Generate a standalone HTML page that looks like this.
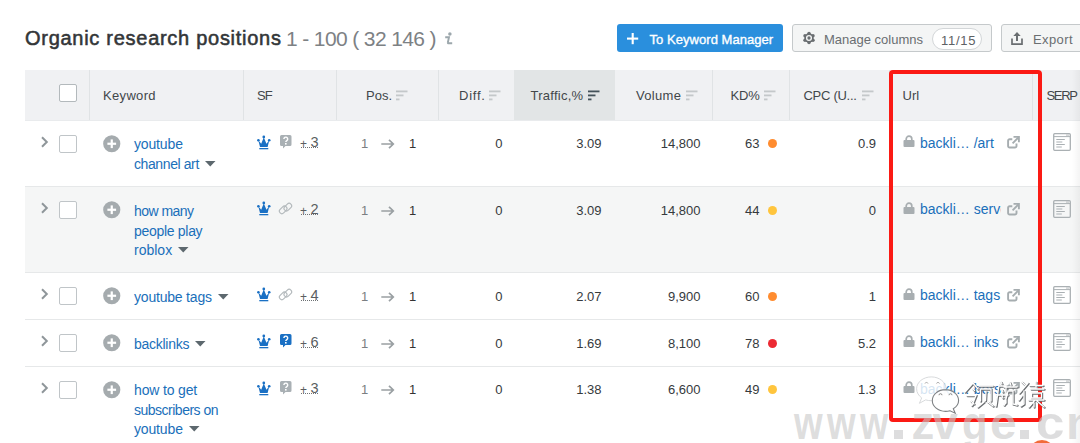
<!DOCTYPE html><html><head><meta charset="utf-8"><style>
*{margin:0;padding:0;box-sizing:border-box}
html,body{width:1080px;height:443px;overflow:hidden;background:#fff;font-family:"Liberation Sans", sans-serif}
body{position:relative}
.a{position:absolute;white-space:nowrap}
.hd{font-size:13px;color:#42474a;line-height:20px}
.num{font-size:13px;color:#363a3d;line-height:20px;text-align:right}
.kw{font-size:14px;color:#1a6fba;line-height:20px}
</style></head><body>
<div class="a" style="left:25px;top:26px;font-size:20px;color:#333638;line-height:24px;letter-spacing:0.72px;-webkit-text-stroke:0.55px #333638">Organic research positions</div>
<div class="a" style="left:286px;top:26.5px;font-size:21px;color:#7d8184;line-height:24px;letter-spacing:-0.62px">1 - 100 ( 32 146 )</div>
<svg class="a" style="left:444px;top:32px" width="10" height="13" viewBox="0 0 10 13"><circle cx="5.9" cy="2" r="1.75" fill="#9ca7ac"/><path d="M1.2 5.3H5L3.9 10.3Q3.6 11.3 4.7 11.3H8.2" fill="none" stroke="#9ca7ac" stroke-width="1.9"/></svg>
<div class="a" style="left:617px;top:24px;width:166px;height:28px;background:#2a8fdd;border-radius:3px"></div>
<svg class="a" style="left:627px;top:33px" width="12" height="12" viewBox="0 0 12 12"><rect x="4.65" y="0" width="2.1" height="11.2" fill="#fff"/><rect x="0" y="4.55" width="11.2" height="2.1" fill="#fff"/></svg>
<div class="a" style="left:649.5px;top:32px;font-size:13px;color:#fff;line-height:15px;-webkit-text-stroke:0.35px #fff;letter-spacing:0.05px">To Keyword Manager</div>
<div class="a" style="left:792px;top:24px;width:200px;height:28px;background:#f4f5f5;border:1px solid #c5c9cb;border-radius:3px"></div>
<svg class="a" style="left:802px;top:31px" width="14" height="14" viewBox="-7 -7 14 14"><g fill="#6a6e71"><circle r="4.7"/><circle cx="0" cy="-4.6" r="1.75"/><circle cx="0" cy="4.6" r="1.75"/><circle cx="3.98" cy="-2.3" r="1.75"/><circle cx="-3.98" cy="-2.3" r="1.75"/><circle cx="3.98" cy="2.3" r="1.75"/><circle cx="-3.98" cy="2.3" r="1.75"/></g><circle r="2.35" fill="none" stroke="#f4f5f5" stroke-width="1.4"/></svg>
<div class="a" style="left:824px;top:32px;font-size:13px;color:#6a6e71;line-height:15px">Manage columns</div>
<div class="a" style="left:932px;top:28px;width:50px;height:22px;background:#fff;border:1px solid #d3d6d8;border-radius:11px"></div>
<div class="a" style="left:941px;top:32.5px;font-size:13px;color:#5d6164;line-height:15px;letter-spacing:0.7px">11/15</div>
<div class="a" style="left:1001px;top:24px;width:100px;height:28px;background:#f4f5f5;border:1px solid #c5c9cb;border-radius:3px"></div>
<svg class="a" style="left:1011px;top:32px" width="12" height="13" viewBox="0 0 12 13"><path d="M6 0L2.3 4h2.7v5h2V4h2.7z" fill="#6a6e71"/><path d="M1 6.5v5.6h10V6.5" fill="none" stroke="#6a6e71" stroke-width="1.7"/></svg>
<div class="a" style="left:1033px;top:32px;font-size:13px;color:#6a6e71;line-height:15px;letter-spacing:0.4px">Export</div>
<div class="a" style="left:25px;top:70px;width:1055px;height:51px;background:#f0f1f3;border-bottom:1px solid #e9ebed"></div>
<div class="a" style="left:514px;top:70px;width:101px;height:50px;background:#e2e5e6"></div>
<div class="a" style="left:89px;top:70px;width:1px;height:50px;background:#e0e3e5"></div>
<div class="a" style="left:243px;top:70px;width:1px;height:50px;background:#e0e3e5"></div>
<div class="a" style="left:336px;top:70px;width:1px;height:50px;background:#e0e3e5"></div>
<div class="a" style="left:438px;top:70px;width:1px;height:50px;background:#e0e3e5"></div>
<div class="a" style="left:712px;top:70px;width:1px;height:50px;background:#e0e3e5"></div>
<div class="a" style="left:789px;top:70px;width:1px;height:50px;background:#e0e3e5"></div>
<div class="a" style="left:889px;top:70px;width:1px;height:50px;background:#e0e3e5"></div>
<div class="a" style="left:1032px;top:70px;width:1px;height:50px;background:#e0e3e5"></div>
<div class="a" style="left:59px;top:84px;width:18px;height:18px;background:#fff;border:1px solid #b3b9bc;border-radius:2px"></div>
<div class="a hd" style="left:103px;top:86px;letter-spacing:0.33px">Keyword</div>
<div class="a hd" style="left:257px;top:86px;letter-spacing:-0.9px">SF</div>
<div class="a hd" style="left:366px;top:86px;letter-spacing:0px">Pos.</div>
<svg class="a" style="left:396px;top:90px" width="12" height="11" viewBox="0 0 12 11"><rect x="0" y="0.5" width="11.5" height="1.8" fill="#c4c8ca"/><rect x="0" y="4.5" width="7.5" height="1.8" fill="#c4c8ca"/><rect x="0" y="8.5" width="3.5" height="1.8" fill="#c4c8ca"/></svg>
<div class="a hd" style="left:459px;top:86px;letter-spacing:0.75px">Diff.</div>
<svg class="a" style="left:489px;top:90px" width="12" height="11" viewBox="0 0 12 11"><rect x="0" y="0.5" width="11.5" height="1.8" fill="#c4c8ca"/><rect x="0" y="4.5" width="7.5" height="1.8" fill="#c4c8ca"/><rect x="0" y="8.5" width="3.5" height="1.8" fill="#c4c8ca"/></svg>
<div class="a hd" style="left:530.5px;top:86px;letter-spacing:0.25px">Traffic,%</div>
<svg class="a" style="left:588px;top:90px" width="12" height="11" viewBox="0 0 12 11"><rect x="0" y="0.5" width="11.5" height="1.8" fill="#44525a"/><rect x="0" y="4.5" width="7.5" height="1.8" fill="#44525a"/><rect x="0" y="8.5" width="3.5" height="1.8" fill="#44525a"/></svg>
<div class="a hd" style="left:636px;top:86px;letter-spacing:0.3px">Volume</div>
<svg class="a" style="left:686px;top:90px" width="12" height="11" viewBox="0 0 12 11"><rect x="0" y="0.5" width="11.5" height="1.8" fill="#c4c8ca"/><rect x="0" y="4.5" width="7.5" height="1.8" fill="#c4c8ca"/><rect x="0" y="8.5" width="3.5" height="1.8" fill="#c4c8ca"/></svg>
<div class="a hd" style="left:730.5px;top:86px;letter-spacing:-0.2px">KD%</div>
<svg class="a" style="left:764px;top:90px" width="12" height="11" viewBox="0 0 12 11"><rect x="0" y="0.5" width="11.5" height="1.8" fill="#c4c8ca"/><rect x="0" y="4.5" width="7.5" height="1.8" fill="#c4c8ca"/><rect x="0" y="8.5" width="3.5" height="1.8" fill="#c4c8ca"/></svg>
<div class="a hd" style="left:803.5px;top:86px;letter-spacing:-0.28px">CPC (U...</div>
<svg class="a" style="left:862px;top:90px" width="12" height="11" viewBox="0 0 12 11"><rect x="0" y="0.5" width="11.5" height="1.8" fill="#c4c8ca"/><rect x="0" y="4.5" width="7.5" height="1.8" fill="#c4c8ca"/><rect x="0" y="8.5" width="3.5" height="1.8" fill="#c4c8ca"/></svg>
<div class="a hd" style="left:902.5px;top:86px;letter-spacing:0px">Url</div>
<div class="a hd" style="left:1046.5px;top:86px;letter-spacing:-1.3px">SERP</div>
<div class="a" style="left:25px;top:121px;width:1055px;height:66px;background:#fff;border-bottom:1px solid #e6e8e9"></div>
<svg class="a" style="left:40px;top:136px" width="9" height="12" viewBox="0 0 9 12"><path d="M2 1.3l4.8 4.7L2 10.7" fill="none" stroke="#8f969a" stroke-width="2"/></svg>
<div class="a" style="left:59px;top:135px;width:18px;height:18px;background:#fff;border:1px solid #c0c5c8;border-radius:2px"></div>
<svg class="a" style="left:103px;top:135px" width="18" height="18" viewBox="0 0 18 18"><circle cx="8.75" cy="8.75" r="8.6" fill="#a5abae"/><rect x="7.65" y="4.4" width="2.2" height="8.7" fill="#fff"/><rect x="4.4" y="7.65" width="8.7" height="2.2" fill="#fff"/></svg>
<div class="a kw" style="left:134px;top:134px"><span style="letter-spacing:-0.15px">youtube</span></div>
<div class="a kw" style="left:134px;top:154px"><span style="letter-spacing:-0.4px">channel art</span><svg style="display:inline-block;margin-left:6px;vertical-align:2px" width="11" height="6" viewBox="0 0 11 6"><path d="M0 0h10.5L5.25 5.5z" fill="#5d686e"/></svg></div>
<svg class="a" style="left:257px;top:135px" width="14" height="15" viewBox="0 0 14 15"><path d="M1.3 5.2L3 11.9h7.6l1.7-6.7-2.9 3.5L6.8 2.3 4.2 8.7z" fill="#1a70c4"/><circle cx="1.4" cy="5.3" r="1.3" fill="#1a70c4"/><circle cx="6.8" cy="1.9" r="1.35" fill="#1a70c4"/><circle cx="12.2" cy="5.3" r="1.3" fill="#1a70c4"/><rect x="2.3" y="13" width="9" height="1.3" fill="#1a70c4"/></svg>
<svg class="a" style="left:280px;top:135px" width="12" height="14" viewBox="0 0 12 14"><path d="M1.5 0h8.5A1.5 1.5 0 0 1 11.5 1.5v8A1.5 1.5 0 0 1 10 11H5.5l-2.5 2.6V11H1.5A1.5 1.5 0 0 1 0 9.5v-8A1.5 1.5 0 0 1 1.5 0z" fill="#a9b0b4"/><path d="M3.9 4.1a1.9 1.9 0 1 1 2.9 1.6c-.6.4-1 .7-1 1.4" fill="none" stroke="#fff" stroke-width="1.4"/><rect x="5" y="8" width="1.6" height="1.6" fill="#fff"/></svg>
<div class="a" style="left:300px;top:134px;font-size:12px;color:#5a5e61;line-height:20px">+</div>
<div class="a" style="left:310.5px;top:132px;font-size:14.5px;color:#5a5e61;line-height:20px">3</div>
<div class="a" style="left:301px;top:147px;width:17px;height:1px;border-top:1px dotted #6e7275"></div>
<div class="a" style="left:361px;top:134px;font-size:13px;color:#7b7f82;line-height:20px">1</div>
<svg class="a" style="left:381px;top:139px" width="14" height="10" viewBox="0 0 14 10"><path d="M0.3 5h12M8 0.8l4.3 4.2L8 9.2" fill="none" stroke="#9aa0a3" stroke-width="1.7"/></svg>
<div class="a" style="left:409px;top:134px;font-size:13px;color:#333;line-height:20px">1</div>
<div class="a num" style="left:438px;width:64.5px;top:134px">0</div>
<div class="a num" style="left:514px;width:87.5px;top:134px">3.09</div>
<div class="a num" style="left:615px;width:85.5px;top:134px">14,800</div>
<div class="a num" style="left:712px;width:47.5px;top:134px">63</div>
<div class="a" style="left:768px;top:139px;width:9px;height:9px;border-radius:50%;background:#ff8c2f"></div>
<div class="a num" style="left:789px;width:87px;top:134px">0.9</div>
<svg class="a" style="left:903px;top:135px" width="12" height="12" viewBox="0 0 12 12"><path d="M3.2 5.5V4a2.8 2.8 0 0 1 5.6 0v1.5" fill="none" stroke="#a8aeb1" stroke-width="1.7"/><rect x="0.5" y="5" width="11" height="7" rx="1" fill="#a8aeb1"/></svg>
<div class="a kw" style="left:920px;top:133px;width:81px;overflow:hidden;letter-spacing:0px">backli… /art</div>
<svg class="a" style="left:1007px;top:135px" width="14" height="14" viewBox="0 0 14 14"><path d="M5.3 4.3H2.6A1.5 1.5 0 0 0 1.1 5.8V11A1.5 1.5 0 0 0 2.6 12.5H8A1.5 1.5 0 0 0 9.5 11V8.6" fill="none" stroke="#a6adb0" stroke-width="1.9"/><path d="M6.5 1.9H11.9V7.2" fill="none" stroke="#a6adb0" stroke-width="1.9"/><path d="M5.6 8.3L11.4 2.5" stroke="#a6adb0" stroke-width="1.9"/></svg>
<svg class="a" style="left:1053px;top:133px" width="18" height="18" viewBox="0 0 18 18"><rect x="0.7" y="0.7" width="16.6" height="16.6" rx="1" fill="none" stroke="#aab0b3" stroke-width="1.3"/><path d="M1 3.6h16" stroke="#aab0b3" stroke-width="1"/><path d="M13 2.1h3" stroke="#aab0b3" stroke-width="0.8"/><path d="M3.3 6.5h8.5M3.3 9h6M3.3 11.5h8.5M3.3 14h5.5" stroke="#aab0b3" stroke-width="1.1"/></svg>
<div class="a" style="left:25px;top:187px;width:1055px;height:86px;background:#f5f6f6;border-bottom:1px solid #e6e8e9"></div>
<svg class="a" style="left:40px;top:202px" width="9" height="12" viewBox="0 0 9 12"><path d="M2 1.3l4.8 4.7L2 10.7" fill="none" stroke="#8f969a" stroke-width="2"/></svg>
<div class="a" style="left:59px;top:201px;width:18px;height:18px;background:#fff;border:1px solid #c0c5c8;border-radius:2px"></div>
<svg class="a" style="left:103px;top:201px" width="18" height="18" viewBox="0 0 18 18"><circle cx="8.75" cy="8.75" r="8.6" fill="#a5abae"/><rect x="7.65" y="4.4" width="2.2" height="8.7" fill="#fff"/><rect x="4.4" y="7.65" width="8.7" height="2.2" fill="#fff"/></svg>
<div class="a kw" style="left:134px;top:201px"><span style="letter-spacing:-0.54px">how many</span></div>
<div class="a kw" style="left:134px;top:221px"><span style="letter-spacing:-0.3px">people play</span></div>
<div class="a kw" style="left:134px;top:240px"><span style="letter-spacing:0px">roblox</span><svg style="display:inline-block;margin-left:6px;vertical-align:2px" width="11" height="6" viewBox="0 0 11 6"><path d="M0 0h10.5L5.25 5.5z" fill="#5d686e"/></svg></div>
<svg class="a" style="left:257px;top:201px" width="14" height="15" viewBox="0 0 14 15"><path d="M1.3 5.2L3 11.9h7.6l1.7-6.7-2.9 3.5L6.8 2.3 4.2 8.7z" fill="#1a70c4"/><circle cx="1.4" cy="5.3" r="1.3" fill="#1a70c4"/><circle cx="6.8" cy="1.9" r="1.35" fill="#1a70c4"/><circle cx="12.2" cy="5.3" r="1.3" fill="#1a70c4"/><rect x="2.3" y="13" width="9" height="1.3" fill="#1a70c4"/></svg>
<svg class="a" style="left:278px;top:201px" width="15" height="15" viewBox="0 0 15 15"><g fill="none" stroke="#b3b9bc" stroke-width="1.15" transform="rotate(-45 7.5 7.5)"><rect x="0.6" y="4.3" width="8.6" height="5" rx="2.5"/><rect x="5.8" y="5.7" width="8.6" height="5" rx="2.5"/></g></svg>
<div class="a" style="left:300px;top:201px;font-size:12px;color:#5a5e61;line-height:20px">+</div>
<div class="a" style="left:310.5px;top:199px;font-size:14.5px;color:#5a5e61;line-height:20px">2</div>
<div class="a" style="left:301px;top:214px;width:17px;height:1px;border-top:1px dotted #6e7275"></div>
<div class="a" style="left:361px;top:201px;font-size:13px;color:#7b7f82;line-height:20px">1</div>
<svg class="a" style="left:381px;top:206px" width="14" height="10" viewBox="0 0 14 10"><path d="M0.3 5h12M8 0.8l4.3 4.2L8 9.2" fill="none" stroke="#9aa0a3" stroke-width="1.7"/></svg>
<div class="a" style="left:409px;top:201px;font-size:13px;color:#333;line-height:20px">1</div>
<div class="a num" style="left:438px;width:64.5px;top:201px">0</div>
<div class="a num" style="left:514px;width:87.5px;top:201px">3.09</div>
<div class="a num" style="left:615px;width:85.5px;top:201px">14,800</div>
<div class="a num" style="left:712px;width:47.5px;top:201px">44</div>
<div class="a" style="left:768px;top:206px;width:9px;height:9px;border-radius:50%;background:#ffc53d"></div>
<div class="a num" style="left:789px;width:87px;top:201px">0</div>
<svg class="a" style="left:903px;top:202px" width="12" height="12" viewBox="0 0 12 12"><path d="M3.2 5.5V4a2.8 2.8 0 0 1 5.6 0v1.5" fill="none" stroke="#a8aeb1" stroke-width="1.7"/><rect x="0.5" y="5" width="11" height="7" rx="1" fill="#a8aeb1"/></svg>
<div class="a kw" style="left:920px;top:199px;width:81px;overflow:hidden;letter-spacing:0px">backli… serve</div>
<svg class="a" style="left:1007px;top:202px" width="14" height="14" viewBox="0 0 14 14"><path d="M5.3 4.3H2.6A1.5 1.5 0 0 0 1.1 5.8V11A1.5 1.5 0 0 0 2.6 12.5H8A1.5 1.5 0 0 0 9.5 11V8.6" fill="none" stroke="#a6adb0" stroke-width="1.9"/><path d="M6.5 1.9H11.9V7.2" fill="none" stroke="#a6adb0" stroke-width="1.9"/><path d="M5.6 8.3L11.4 2.5" stroke="#a6adb0" stroke-width="1.9"/></svg>
<svg class="a" style="left:1053px;top:200px" width="18" height="18" viewBox="0 0 18 18"><rect x="0.7" y="0.7" width="16.6" height="16.6" rx="1" fill="none" stroke="#aab0b3" stroke-width="1.3"/><path d="M1 3.6h16" stroke="#aab0b3" stroke-width="1"/><path d="M13 2.1h3" stroke="#aab0b3" stroke-width="0.8"/><path d="M3.3 6.5h8.5M3.3 9h6M3.3 11.5h8.5M3.3 14h5.5" stroke="#aab0b3" stroke-width="1.1"/></svg>
<div class="a" style="left:25px;top:273px;width:1055px;height:47px;background:#fff;border-bottom:1px solid #e6e8e9"></div>
<svg class="a" style="left:40px;top:288px" width="9" height="12" viewBox="0 0 9 12"><path d="M2 1.3l4.8 4.7L2 10.7" fill="none" stroke="#8f969a" stroke-width="2"/></svg>
<div class="a" style="left:59px;top:287px;width:18px;height:18px;background:#fff;border:1px solid #c0c5c8;border-radius:2px"></div>
<svg class="a" style="left:103px;top:287px" width="18" height="18" viewBox="0 0 18 18"><circle cx="8.75" cy="8.75" r="8.6" fill="#a5abae"/><rect x="7.65" y="4.4" width="2.2" height="8.7" fill="#fff"/><rect x="4.4" y="7.65" width="8.7" height="2.2" fill="#fff"/></svg>
<div class="a kw" style="left:134px;top:287px"><span style="letter-spacing:-0.2px">youtube tags</span><svg style="display:inline-block;margin-left:6px;vertical-align:2px" width="11" height="6" viewBox="0 0 11 6"><path d="M0 0h10.5L5.25 5.5z" fill="#5d686e"/></svg></div>
<svg class="a" style="left:257px;top:287px" width="14" height="15" viewBox="0 0 14 15"><path d="M1.3 5.2L3 11.9h7.6l1.7-6.7-2.9 3.5L6.8 2.3 4.2 8.7z" fill="#1a70c4"/><circle cx="1.4" cy="5.3" r="1.3" fill="#1a70c4"/><circle cx="6.8" cy="1.9" r="1.35" fill="#1a70c4"/><circle cx="12.2" cy="5.3" r="1.3" fill="#1a70c4"/><rect x="2.3" y="13" width="9" height="1.3" fill="#1a70c4"/></svg>
<svg class="a" style="left:278px;top:287px" width="15" height="15" viewBox="0 0 15 15"><g fill="none" stroke="#b3b9bc" stroke-width="1.15" transform="rotate(-45 7.5 7.5)"><rect x="0.6" y="4.3" width="8.6" height="5" rx="2.5"/><rect x="5.8" y="5.7" width="8.6" height="5" rx="2.5"/></g></svg>
<div class="a" style="left:300px;top:287px;font-size:12px;color:#5a5e61;line-height:20px">+</div>
<div class="a" style="left:310.5px;top:285px;font-size:14.5px;color:#5a5e61;line-height:20px">4</div>
<div class="a" style="left:301px;top:300px;width:17px;height:1px;border-top:1px dotted #6e7275"></div>
<div class="a" style="left:361px;top:287px;font-size:13px;color:#7b7f82;line-height:20px">1</div>
<svg class="a" style="left:381px;top:292px" width="14" height="10" viewBox="0 0 14 10"><path d="M0.3 5h12M8 0.8l4.3 4.2L8 9.2" fill="none" stroke="#9aa0a3" stroke-width="1.7"/></svg>
<div class="a" style="left:409px;top:287px;font-size:13px;color:#333;line-height:20px">1</div>
<div class="a num" style="left:438px;width:64.5px;top:287px">0</div>
<div class="a num" style="left:514px;width:87.5px;top:287px">2.07</div>
<div class="a num" style="left:615px;width:85.5px;top:287px">9,900</div>
<div class="a num" style="left:712px;width:47.5px;top:287px">60</div>
<div class="a" style="left:768px;top:292px;width:9px;height:9px;border-radius:50%;background:#ff8c2f"></div>
<div class="a num" style="left:789px;width:87px;top:287px">1</div>
<svg class="a" style="left:903px;top:288px" width="12" height="12" viewBox="0 0 12 12"><path d="M3.2 5.5V4a2.8 2.8 0 0 1 5.6 0v1.5" fill="none" stroke="#a8aeb1" stroke-width="1.7"/><rect x="0.5" y="5" width="11" height="7" rx="1" fill="#a8aeb1"/></svg>
<div class="a kw" style="left:920px;top:285px;width:81px;overflow:hidden;letter-spacing:0px">backli… tags</div>
<svg class="a" style="left:1007px;top:288px" width="14" height="14" viewBox="0 0 14 14"><path d="M5.3 4.3H2.6A1.5 1.5 0 0 0 1.1 5.8V11A1.5 1.5 0 0 0 2.6 12.5H8A1.5 1.5 0 0 0 9.5 11V8.6" fill="none" stroke="#a6adb0" stroke-width="1.9"/><path d="M6.5 1.9H11.9V7.2" fill="none" stroke="#a6adb0" stroke-width="1.9"/><path d="M5.6 8.3L11.4 2.5" stroke="#a6adb0" stroke-width="1.9"/></svg>
<svg class="a" style="left:1053px;top:286px" width="18" height="18" viewBox="0 0 18 18"><rect x="0.7" y="0.7" width="16.6" height="16.6" rx="1" fill="none" stroke="#aab0b3" stroke-width="1.3"/><path d="M1 3.6h16" stroke="#aab0b3" stroke-width="1"/><path d="M13 2.1h3" stroke="#aab0b3" stroke-width="0.8"/><path d="M3.3 6.5h8.5M3.3 9h6M3.3 11.5h8.5M3.3 14h5.5" stroke="#aab0b3" stroke-width="1.1"/></svg>
<div class="a" style="left:25px;top:320px;width:1055px;height:47px;background:#fff;border-bottom:1px solid #e6e8e9"></div>
<svg class="a" style="left:40px;top:335px" width="9" height="12" viewBox="0 0 9 12"><path d="M2 1.3l4.8 4.7L2 10.7" fill="none" stroke="#8f969a" stroke-width="2"/></svg>
<div class="a" style="left:59px;top:334px;width:18px;height:18px;background:#fff;border:1px solid #c0c5c8;border-radius:2px"></div>
<svg class="a" style="left:103px;top:334px" width="18" height="18" viewBox="0 0 18 18"><circle cx="8.75" cy="8.75" r="8.6" fill="#a5abae"/><rect x="7.65" y="4.4" width="2.2" height="8.7" fill="#fff"/><rect x="4.4" y="7.65" width="8.7" height="2.2" fill="#fff"/></svg>
<div class="a kw" style="left:134px;top:334px"><span style="letter-spacing:-0.27px">backlinks</span><svg style="display:inline-block;margin-left:6px;vertical-align:2px" width="11" height="6" viewBox="0 0 11 6"><path d="M0 0h10.5L5.25 5.5z" fill="#5d686e"/></svg></div>
<svg class="a" style="left:257px;top:334px" width="14" height="15" viewBox="0 0 14 15"><path d="M1.3 5.2L3 11.9h7.6l1.7-6.7-2.9 3.5L6.8 2.3 4.2 8.7z" fill="#1a70c4"/><circle cx="1.4" cy="5.3" r="1.3" fill="#1a70c4"/><circle cx="6.8" cy="1.9" r="1.35" fill="#1a70c4"/><circle cx="12.2" cy="5.3" r="1.3" fill="#1a70c4"/><rect x="2.3" y="13" width="9" height="1.3" fill="#1a70c4"/></svg>
<svg class="a" style="left:280px;top:334px" width="12" height="14" viewBox="0 0 12 14"><path d="M1.5 0h8.5A1.5 1.5 0 0 1 11.5 1.5v8A1.5 1.5 0 0 1 10 11H5.5l-2.5 2.6V11H1.5A1.5 1.5 0 0 1 0 9.5v-8A1.5 1.5 0 0 1 1.5 0z" fill="#1a70c4"/><path d="M3.9 4.1a1.9 1.9 0 1 1 2.9 1.6c-.6.4-1 .7-1 1.4" fill="none" stroke="#fff" stroke-width="1.4"/><rect x="5" y="8" width="1.6" height="1.6" fill="#fff"/></svg>
<div class="a" style="left:300px;top:334px;font-size:12px;color:#5a5e61;line-height:20px">+</div>
<div class="a" style="left:310.5px;top:332px;font-size:14.5px;color:#5a5e61;line-height:20px">6</div>
<div class="a" style="left:301px;top:347px;width:17px;height:1px;border-top:1px dotted #6e7275"></div>
<div class="a" style="left:361px;top:334px;font-size:13px;color:#7b7f82;line-height:20px">1</div>
<svg class="a" style="left:381px;top:339px" width="14" height="10" viewBox="0 0 14 10"><path d="M0.3 5h12M8 0.8l4.3 4.2L8 9.2" fill="none" stroke="#9aa0a3" stroke-width="1.7"/></svg>
<div class="a" style="left:409px;top:334px;font-size:13px;color:#333;line-height:20px">1</div>
<div class="a num" style="left:438px;width:64.5px;top:334px">0</div>
<div class="a num" style="left:514px;width:87.5px;top:334px">1.69</div>
<div class="a num" style="left:615px;width:85.5px;top:334px">8,100</div>
<div class="a num" style="left:712px;width:47.5px;top:334px">78</div>
<div class="a" style="left:768px;top:339px;width:9px;height:9px;border-radius:50%;background:#ec2a33"></div>
<div class="a num" style="left:789px;width:87px;top:334px">5.2</div>
<svg class="a" style="left:903px;top:335px" width="12" height="12" viewBox="0 0 12 12"><path d="M3.2 5.5V4a2.8 2.8 0 0 1 5.6 0v1.5" fill="none" stroke="#a8aeb1" stroke-width="1.7"/><rect x="0.5" y="5" width="11" height="7" rx="1" fill="#a8aeb1"/></svg>
<div class="a kw" style="left:920px;top:332px;width:81px;overflow:hidden;letter-spacing:0px">backli… inks</div>
<svg class="a" style="left:1007px;top:335px" width="14" height="14" viewBox="0 0 14 14"><path d="M5.3 4.3H2.6A1.5 1.5 0 0 0 1.1 5.8V11A1.5 1.5 0 0 0 2.6 12.5H8A1.5 1.5 0 0 0 9.5 11V8.6" fill="none" stroke="#a6adb0" stroke-width="1.9"/><path d="M6.5 1.9H11.9V7.2" fill="none" stroke="#a6adb0" stroke-width="1.9"/><path d="M5.6 8.3L11.4 2.5" stroke="#a6adb0" stroke-width="1.9"/></svg>
<svg class="a" style="left:1053px;top:333px" width="18" height="18" viewBox="0 0 18 18"><rect x="0.7" y="0.7" width="16.6" height="16.6" rx="1" fill="none" stroke="#aab0b3" stroke-width="1.3"/><path d="M1 3.6h16" stroke="#aab0b3" stroke-width="1"/><path d="M13 2.1h3" stroke="#aab0b3" stroke-width="0.8"/><path d="M3.3 6.5h8.5M3.3 9h6M3.3 11.5h8.5M3.3 14h5.5" stroke="#aab0b3" stroke-width="1.1"/></svg>
<div class="a" style="left:25px;top:367px;width:1055px;height:86px;background:#fff;border-bottom:1px solid #e6e8e9"></div>
<svg class="a" style="left:40px;top:382px" width="9" height="12" viewBox="0 0 9 12"><path d="M2 1.3l4.8 4.7L2 10.7" fill="none" stroke="#8f969a" stroke-width="2"/></svg>
<div class="a" style="left:59px;top:381px;width:18px;height:18px;background:#fff;border:1px solid #c0c5c8;border-radius:2px"></div>
<svg class="a" style="left:103px;top:381px" width="18" height="18" viewBox="0 0 18 18"><circle cx="8.75" cy="8.75" r="8.6" fill="#a5abae"/><rect x="7.65" y="4.4" width="2.2" height="8.7" fill="#fff"/><rect x="4.4" y="7.65" width="8.7" height="2.2" fill="#fff"/></svg>
<div class="a kw" style="left:134px;top:380px"><span style="letter-spacing:-0.15px">how to get</span></div>
<div class="a kw" style="left:134px;top:400px"><span style="letter-spacing:-0.5px">subscribers on</span></div>
<div class="a kw" style="left:134px;top:419px"><span style="letter-spacing:-0.15px">youtube</span><svg style="display:inline-block;margin-left:6px;vertical-align:2px" width="11" height="6" viewBox="0 0 11 6"><path d="M0 0h10.5L5.25 5.5z" fill="#5d686e"/></svg></div>
<svg class="a" style="left:257px;top:381px" width="14" height="15" viewBox="0 0 14 15"><path d="M1.3 5.2L3 11.9h7.6l1.7-6.7-2.9 3.5L6.8 2.3 4.2 8.7z" fill="#1a70c4"/><circle cx="1.4" cy="5.3" r="1.3" fill="#1a70c4"/><circle cx="6.8" cy="1.9" r="1.35" fill="#1a70c4"/><circle cx="12.2" cy="5.3" r="1.3" fill="#1a70c4"/><rect x="2.3" y="13" width="9" height="1.3" fill="#1a70c4"/></svg>
<svg class="a" style="left:280px;top:381px" width="12" height="14" viewBox="0 0 12 14"><path d="M1.5 0h8.5A1.5 1.5 0 0 1 11.5 1.5v8A1.5 1.5 0 0 1 10 11H5.5l-2.5 2.6V11H1.5A1.5 1.5 0 0 1 0 9.5v-8A1.5 1.5 0 0 1 1.5 0z" fill="#a9b0b4"/><path d="M3.9 4.1a1.9 1.9 0 1 1 2.9 1.6c-.6.4-1 .7-1 1.4" fill="none" stroke="#fff" stroke-width="1.4"/><rect x="5" y="8" width="1.6" height="1.6" fill="#fff"/></svg>
<div class="a" style="left:300px;top:380px;font-size:12px;color:#5a5e61;line-height:20px">+</div>
<div class="a" style="left:310.5px;top:378px;font-size:14.5px;color:#5a5e61;line-height:20px">3</div>
<div class="a" style="left:301px;top:393px;width:17px;height:1px;border-top:1px dotted #6e7275"></div>
<div class="a" style="left:361px;top:380px;font-size:13px;color:#7b7f82;line-height:20px">1</div>
<svg class="a" style="left:381px;top:385px" width="14" height="10" viewBox="0 0 14 10"><path d="M0.3 5h12M8 0.8l4.3 4.2L8 9.2" fill="none" stroke="#9aa0a3" stroke-width="1.7"/></svg>
<div class="a" style="left:409px;top:380px;font-size:13px;color:#333;line-height:20px">1</div>
<div class="a num" style="left:438px;width:64.5px;top:380px">0</div>
<div class="a num" style="left:514px;width:87.5px;top:380px">1.38</div>
<div class="a num" style="left:615px;width:85.5px;top:380px">6,600</div>
<div class="a num" style="left:712px;width:47.5px;top:380px">49</div>
<div class="a" style="left:768px;top:385px;width:9px;height:9px;border-radius:50%;background:#ffc53d"></div>
<div class="a num" style="left:789px;width:87px;top:380px">1.3</div>
<svg class="a" style="left:903px;top:381px" width="12" height="12" viewBox="0 0 12 12"><path d="M3.2 5.5V4a2.8 2.8 0 0 1 5.6 0v1.5" fill="none" stroke="#a8aeb1" stroke-width="1.7"/><rect x="0.5" y="5" width="11" height="7" rx="1" fill="#a8aeb1"/></svg>
<div class="a kw" style="left:920px;top:379px;width:81px;overflow:hidden;letter-spacing:0px">backli… bers</div>
<svg class="a" style="left:1007px;top:381px" width="14" height="14" viewBox="0 0 14 14"><path d="M5.3 4.3H2.6A1.5 1.5 0 0 0 1.1 5.8V11A1.5 1.5 0 0 0 2.6 12.5H8A1.5 1.5 0 0 0 9.5 11V8.6" fill="none" stroke="#a6adb0" stroke-width="1.9"/><path d="M6.5 1.9H11.9V7.2" fill="none" stroke="#a6adb0" stroke-width="1.9"/><path d="M5.6 8.3L11.4 2.5" stroke="#a6adb0" stroke-width="1.9"/></svg>
<svg class="a" style="left:1053px;top:379px" width="18" height="18" viewBox="0 0 18 18"><rect x="0.7" y="0.7" width="16.6" height="16.6" rx="1" fill="none" stroke="#aab0b3" stroke-width="1.3"/><path d="M1 3.6h16" stroke="#aab0b3" stroke-width="1"/><path d="M13 2.1h3" stroke="#aab0b3" stroke-width="0.8"/><path d="M3.3 6.5h8.5M3.3 9h6M3.3 11.5h8.5M3.3 14h5.5" stroke="#aab0b3" stroke-width="1.1"/></svg>
<div class="a" style="left:1072px;top:70px;width:8px;height:373px;background:linear-gradient(to right,rgba(0,0,0,0),rgba(0,0,0,0.045))"></div>
<div class="a" style="left:889px;top:70px;width:153px;height:352px;border:4px solid #fb1a14;border-radius:4px"></div>
<div class="a" style="left:794px;top:394px;font-size:45.5px;font-weight:bold;line-height:60px;color:rgba(200,200,201,0.62);transform:scaleX(0.81);transform-origin:0 0">w</div>
<div class="a" style="left:827px;top:394px;font-size:45.5px;font-weight:bold;line-height:60px;color:rgba(200,200,201,0.62);transform:scaleX(0.81);transform-origin:0 0">w</div>
<div class="a" style="left:860px;top:394px;font-size:45.5px;font-weight:bold;line-height:60px;color:rgba(200,200,201,0.62);transform:scaleX(0.8);transform-origin:0 0">w</div>
<div class="a" style="left:911.5px;top:394px;font-size:45.5px;font-weight:bold;line-height:60px;color:rgba(200,200,201,0.62);transform:scaleX(1);transform-origin:0 0">z</div>
<div class="a" style="left:932.5px;top:394px;font-size:45.5px;font-weight:bold;line-height:60px;color:rgba(200,200,201,0.62);transform:scaleX(1);transform-origin:0 0">v</div>
<div class="a" style="left:962px;top:394px;font-size:45.5px;font-weight:bold;line-height:60px;color:rgba(200,200,201,0.62);transform:scaleX(0.92);transform-origin:0 0">g</div>
<div class="a" style="left:990px;top:394px;font-size:45.5px;font-weight:bold;line-height:60px;color:rgba(200,200,201,0.62);transform:scaleX(1.05);transform-origin:0 0">e</div>
<div class="a" style="left:1036px;top:394px;font-size:45.5px;font-weight:bold;line-height:60px;color:rgba(200,200,201,0.62);transform:scaleX(1.12);transform-origin:0 0">c</div>
<div class="a" style="left:1066px;top:394px;font-size:45.5px;font-weight:bold;line-height:60px;color:rgba(200,200,201,0.62);transform:scaleX(1.05);transform-origin:0 0">n</div>
<div class="a" style="left:894px;top:430px;width:9px;height:8.5px;background:rgba(200,200,201,0.62)"></div>
<div class="a" style="left:1020px;top:430px;width:9px;height:8.5px;background:rgba(200,200,201,0.62)"></div>
<div class="a" style="left:1029px;top:440px;width:26px;height:26px;border-radius:50%;background:#f26b3a"></div>
<svg class="a" style="left:900px;top:370px" width="70" height="50" viewBox="900 370 70 50">
<path d="M931.3 376.9c-8.1 0-14.7 5.3-14.7 11.9 0 3.6 2 6.9 5.1 9.1l-2.3 5.4 6.2-3.4c1.8.5 3.7.8 5.7.8 8.1 0 14.7-5.3 14.7-11.9s-6.6-11.9-14.7-11.9z" fill="rgba(255,255,255,0.82)" stroke="#d4d6d8" stroke-width="0.9"/>
<path d="M925 383.5a1.6 1.6 0 0 1 3 0M936.5 383.5a1.6 1.6 0 0 1 3 0" fill="none" stroke="#aaa" stroke-width="1"/>
<path d="M945.5 389.6c-7.3 0-13.2 4.9-13.2 10.9s5.9 10.9 13.2 10.9c1.6 0 3.1-.2 4.5-.6l5.2 2.4-1.9-4.4c3.2-2 5.3-5 5.3-8.3 0-6-5.9-10.9-13.2-10.9z" fill="rgba(255,255,255,0.9)" stroke="#7e8184" stroke-width="1.1"/>
<path d="M939 395.2a1.5 1.5 0 0 1 3 0M949 395.2a1.5 1.5 0 0 1 3 0" fill="none" stroke="#888" stroke-width="1"/>
</svg>
<svg class="a" style="left:960px;top:375px" width="90" height="40" viewBox="960 375 90 40">
<path d="M973 383L965 392 M973 383l5 6 M973 389l1.5 1.5 M967 395.5h9l-4 10 M971 401l3 3
M979 386h14 M980.5 389v12 M980.5 389h10.5v12 M986 391.5l-.5 9 M984 402l-6 5 M988 402l5 4
M1001 382l1 2 M999 385l-3 21 M999 386h7v17l-2 2 M1002 390l1 2 M1002 396l1 2 M997 395h11
M1010 382.5l1 3 M1004 387h13 M1008 391l-3.5 14 M1008 391h5v13l4 1
M1022 382l3 3 M1028 383l-8.5 10 M1024 391v13l-3 2 M1022 396l-3 4
M1030 385.5h13 M1036 382v7 M1031 389h13 M1031.5 393h10v5h-10z M1029 400h15 M1035 400l-6 7 M1034 403v4 M1037 401l7 6" fill="none" stroke="#6c6f72" stroke-width="2" transform="translate(0.7 0.8)" stroke-linecap="round"/>
<path d="M973 383L965 392 M973 383l5 6 M973 389l1.5 1.5 M967 395.5h9l-4 10 M971 401l3 3
M979 386h14 M980.5 389v12 M980.5 389h10.5v12 M986 391.5l-.5 9 M984 402l-6 5 M988 402l5 4
M1001 382l1 2 M999 385l-3 21 M999 386h7v17l-2 2 M1002 390l1 2 M1002 396l1 2 M997 395h11
M1010 382.5l1 3 M1004 387h13 M1008 391l-3.5 14 M1008 391h5v13l4 1
M1022 382l3 3 M1028 383l-8.5 10 M1024 391v13l-3 2 M1022 396l-3 4
M1030 385.5h13 M1036 382v7 M1031 389h13 M1031.5 393h10v5h-10z M1029 400h15 M1035 400l-6 7 M1034 403v4 M1037 401l7 6" fill="none" stroke="#fff" stroke-width="1.3" stroke-linecap="round"/>
</svg>
</body></html>
